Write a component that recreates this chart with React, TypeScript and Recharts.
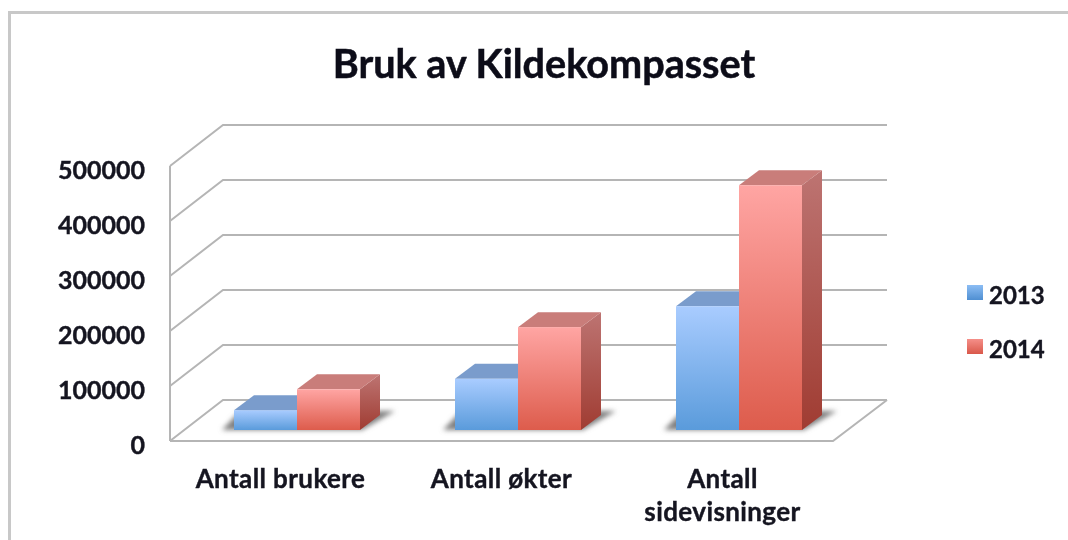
import { Bar, BarChart, CartesianGrid, Legend, XAxis, YAxis } from "recharts";

const categories = ["Antall brukere", "Antall økter", "Antall sidevisninger"];
const values2013 = [36000, 93000, 225000];
const values2014 = [74000, 187000, 445000];
const yTicks = [0, 100000, 200000, 300000, 400000, 500000];

const data = categories.map((name, i) => ({ name, y2013: values2013[i], y2014: values2014[i] }));

const FONT = "Lato, sans-serif";
const TEXT = "#151520";
const GRID = "#b5b5b5";
// depth of the chart box, and of a bar inside it
const BOX = { dx: 53, dy: 41 };
const DEPTH = { dx: 20, dy: 15 };
const BAR_SHIFT = { x: 16, y: -11 };

function GridLine({ x1, x2, y1, index }: any) {
  const bx = x1 + BOX.dx;
  const by = y1 - BOX.dy;
  return (
    <g fill="none" stroke={GRID} strokeWidth={2}>
      <polyline points={`${x1},${y1} ${bx},${by} ${x2 + BOX.dx + 1},${by}`} />
      {index === 0 && <polyline points={`${x1},${y1} ${x2},${y1} ${x2 + BOX.dx + 1},${by}`} />}
    </g>
  );
}

function Bar3D({ x, y, width, height, face, side, top, shadow }: any) {
  const l = x + BAR_SHIFT.x;
  const r = l + width;
  const t = y + BAR_SHIFT.y;
  const b = t + height;
  const { dx, dy } = DEPTH;
  return (
    <g>
      {shadow && (
        <polygon
          points={`${l - 12},${b} ${l + 6},${b - 19} ${r + width + dx + 15},${b - 19} ${r + width + 2},${b}`}
          fill="#808080"
          filter="url(#soft)"
        />
      )}
      <polygon points={`${r},${t} ${r + dx},${t - dy} ${r + dx},${b - dy} ${r},${b}`} fill={side} />
      <polygon points={`${l},${t} ${l + dx},${t - dy} ${r + dx},${t - dy} ${r},${t}`} fill={top} />
      <rect x={l} y={t} width={width} height={height} fill={face} />
    </g>
  );
}

function CategoryTick({ x, y, payload }: any) {
  const text: string = payload.value;
  const lines = text === "Antall sidevisninger" ? ["Antall", "sidevisninger"] : [text];
  return (
    <text
      x={x}
      y={y}
      textAnchor="middle"
      fontFamily={FONT}
      fontWeight={700}
      fontSize={26}
      letterSpacing={0.4}
      fill={TEXT}
      stroke={TEXT}
      strokeWidth={0.4}
    >
      {lines.map((line, i) => (
        <tspan key={line} x={x} dy={i === 0 ? 0 : 33}>
          {line}
        </tspan>
      ))}
    </text>
  );
}

function LegendBox() {
  const items = [
    { label: "2013", fill: "url(#legend2013)", top: 0 },
    { label: "2014", fill: "url(#legend2014)", top: 54 },
  ];
  return (
    <div style={{ position: "relative", width: 90, height: 90 }}>
      <svg width={16} height={80} style={{ position: "absolute", left: 0, top: 2 }}>
        <defs>
          <linearGradient id="legend2013" x1="0" y1="0" x2="0" y2="1">
            <stop offset="0%" stopColor="#8cbdf4" />
            <stop offset="100%" stopColor="#4f8fd2" />
          </linearGradient>
          <linearGradient id="legend2014" x1="0" y1="0" x2="0" y2="1">
            <stop offset="0%" stopColor="#f58f89" />
            <stop offset="100%" stopColor="#d9584a" />
          </linearGradient>
        </defs>
        {items.map((item) => (
          <rect key={item.label} y={item.top} width={16} height={15} fill={item.fill} />
        ))}
      </svg>
      {items.map((item) => (
        <span
          key={item.label}
          style={{
            position: "absolute",
            left: 22,
            top: item.top - 2,
            fontFamily: FONT,
            fontWeight: 700,
            fontSize: 24,
            lineHeight: "28px",
            color: TEXT,
            WebkitTextStroke: "0.4px #151520",
          }}
        >
          {item.label}
        </span>
      ))}
    </div>
  );
}

export default function App() {
  return (
    <div style={{ position: "absolute", left: 0, top: 0, width: 1068, height: 540, background: "#fff", overflow: "hidden" }}>
      <div
        style={{
          position: "absolute",
          left: 8,
          top: 11,
          width: 1068,
          height: 540,
          borderLeft: "3px solid #c8c8c8",
          borderTop: "3px solid #c8c8c8",
        }}
      />
      <BarChart
        width={1068}
        height={540}
        data={data}
        margin={{ top: 166, right: 145, bottom: 0, left: 0 }}
        barSize={63}
        barGap={0}
        style={{ position: "absolute", left: 0, top: 0, filter: "blur(0.6px)" }}
      >
        <defs>
          <linearGradient id="face2013" x1="0" y1="0" x2="0" y2="1">
            <stop offset="0%" stopColor="#a9ccff" />
            <stop offset="100%" stopColor="#5a9bdb" />
          </linearGradient>
          <linearGradient id="face2014" x1="0" y1="0" x2="0" y2="1">
            <stop offset="0%" stopColor="#ffa5a3" />
            <stop offset="100%" stopColor="#dd5c4c" />
          </linearGradient>
          <linearGradient id="side2013" x1="0" y1="0" x2="0" y2="1">
            <stop offset="0%" stopColor="#7a9ccc" />
            <stop offset="100%" stopColor="#3f74ad" />
          </linearGradient>
          <linearGradient id="side2014" x1="0" y1="0" x2="0" y2="1">
            <stop offset="0%" stopColor="#bd7472" />
            <stop offset="100%" stopColor="#a03c32" />
          </linearGradient>
          <filter id="soft" x="-10%" y="-50%" width="120%" height="200%">
            <feGaussianBlur stdDeviation="2.5" />
          </filter>
        </defs>
        <text
          x={544}
          y={78}
          textAnchor="middle"
          fontFamily={FONT}
          fontWeight={700}
          fontSize={39.6}
          fill="#0c0c18"
          stroke="#0c0c18"
          strokeWidth={0.5}
        >
          Bruk av Kildekompasset
        </text>
        <CartesianGrid vertical={false} horizontal={(props: any) => <GridLine key={props.key} {...props} />} syncWithTicks />
        <XAxis
          dataKey="name"
          interval={0}
          height={99}
          axisLine={false}
          tickLine={false}
          tickSize={0}
          tickMargin={0}
          tick={(props: any) => <CategoryTick {...props} y={488} />}
        />
        <YAxis
          domain={[0, 500000]}
          ticks={yTicks}
          width={170}
          tickSize={0}
          tickMargin={25}
          tickLine={false}
          axisLine={{ stroke: GRID, strokeWidth: 2 }}
          tick={{ dy: 4, fontFamily: FONT, fontWeight: 700, fontSize: 25, fill: TEXT, stroke: TEXT, strokeWidth: 0.4 }}
        />
        <Legend layout="vertical" verticalAlign="top" align="right" wrapperStyle={{ left: 967, top: 283, width: 90 }} content={() => <LegendBox />} />
        <Bar
          dataKey="y2013"
          isAnimationActive={false}
          fill="#6ea8e6"
          shape={(props: any) => <Bar3D {...props} face="url(#face2013)" side="url(#side2013)" top="#7a9ccc" shadow />}
        />
        <Bar
          dataKey="y2014"
          isAnimationActive={false}
          fill="#e8736a"
          shape={(props: any) => <Bar3D {...props} face="url(#face2014)" side="url(#side2014)" top="#c97d7a" />}
        />
      </BarChart>
    </div>
  );
}
